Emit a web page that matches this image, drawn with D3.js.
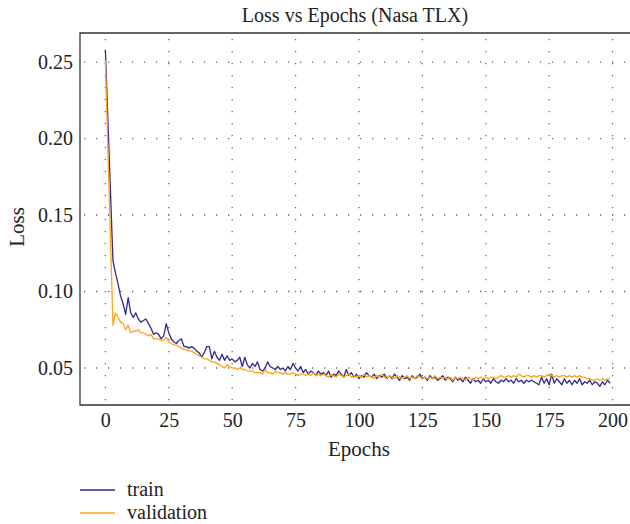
<!DOCTYPE html>
<html><head><meta charset="utf-8">
<script src="https://cdn.jsdelivr.net/npm/d3@7"></script>
<style>body{margin:0;background:#fff}svg{display:block}text{font-family:"Liberation Serif","DejaVu Serif",serif;fill:#222}</style>
</head><body><svg id="c" width="630" height="524"></svg>
<script>
const title = "Loss vs Epochs (Nasa TLX)";
const xTicks = [0,25,50,75,100,125,150,175,200];
const yTicks = [0.05,0.10,0.15,0.20,0.25];
const seriesNames = ["train","validation"];
const train = [0.258,0.212,0.166,0.120,0.112,0.105,0.097,0.092,0.085,0.096,
0.086,0.083,0.086,0.082,0.080,0.081,0.082,0.079,0.076,0.072,
0.073,0.072,0.069,0.071,0.079,0.073,0.069,0.067,0.066,0.068,
0.069,0.064,0.064,0.063,0.064,0.063,0.061,0.060,0.057,0.060,
0.064,0.064,0.056,0.061,0.057,0.055,0.059,0.055,0.058,0.055,
0.056,0.054,0.055,0.057,0.051,0.057,0.052,0.050,0.053,0.051,
0.054,0.049,0.048,0.050,0.054,0.051,0.050,0.049,0.051,0.049,
0.050,0.048,0.051,0.049,0.053,0.050,0.048,0.051,0.047,0.049,
0.046,0.048,0.047,0.045,0.048,0.046,0.047,0.045,0.048,0.044,
0.046,0.045,0.048,0.046,0.044,0.049,0.045,0.047,0.044,0.046,
0.043,0.045,0.044,0.047,0.045,0.044,0.046,0.043,0.045,0.044,
0.046,0.043,0.045,0.043,0.046,0.044,0.042,0.045,0.043,0.044,
0.042,0.045,0.043,0.044,0.046,0.043,0.044,0.042,0.045,0.043,
0.044,0.042,0.043,0.045,0.042,0.044,0.043,0.041,0.044,0.042,
0.043,0.041,0.044,0.042,0.040,0.043,0.041,0.042,0.040,0.043,
0.041,0.042,0.040,0.043,0.041,0.040,0.042,0.041,0.043,0.041,
0.042,0.040,0.043,0.041,0.042,0.040,0.042,0.041,0.042,0.041,
0.040,0.039,0.044,0.040,0.043,0.039,0.046,0.040,0.043,0.041,
0.039,0.043,0.040,0.042,0.039,0.042,0.040,0.043,0.039,0.041,
0.040,0.042,0.039,0.041,0.040,0.038,0.041,0.039,0.042,0.040];
const validation = [0.251,0.193,0.135,0.078,0.086,0.083,0.080,0.079,0.075,0.078,
0.073,0.074,0.074,0.075,0.073,0.073,0.072,0.071,0.072,0.069,
0.069,0.069,0.068,0.068,0.070,0.067,0.066,0.065,0.065,0.064,
0.063,0.062,0.062,0.061,0.061,0.060,0.059,0.058,0.057,0.056,
0.056,0.055,0.054,0.054,0.053,0.052,0.051,0.050,0.052,0.051,
0.050,0.050,0.049,0.050,0.049,0.049,0.048,0.048,0.048,0.047,
0.047,0.047,0.046,0.049,0.047,0.047,0.046,0.048,0.047,0.047,
0.046,0.047,0.046,0.046,0.047,0.046,0.045,0.046,0.046,0.045,
0.046,0.045,0.047,0.045,0.046,0.045,0.046,0.045,0.044,0.046,
0.045,0.044,0.046,0.045,0.044,0.045,0.046,0.044,0.045,0.044,
0.045,0.044,0.046,0.044,0.045,0.044,0.043,0.045,0.044,0.046,
0.044,0.043,0.045,0.044,0.043,0.045,0.044,0.043,0.044,0.045,
0.043,0.044,0.043,0.045,0.044,0.043,0.044,0.043,0.044,0.043,
0.045,0.043,0.044,0.043,0.044,0.043,0.044,0.042,0.044,0.043,
0.044,0.043,0.042,0.044,0.043,0.042,0.044,0.043,0.044,0.043,
0.044,0.043,0.044,0.044,0.043,0.044,0.045,0.044,0.044,0.045,
0.044,0.045,0.044,0.046,0.045,0.044,0.045,0.045,0.044,0.045,
0.044,0.045,0.045,0.044,0.045,0.046,0.045,0.044,0.045,0.044,
0.045,0.045,0.044,0.045,0.044,0.045,0.044,0.045,0.044,0.044,
0.043,0.043,0.042,0.042,0.043,0.042,0.043,0.042,0.043,0.043];
const colors = ["#2f2a8e","#ffa31a"];

const svg = d3.select("#c");
const L=80, R=643, T=33, B=405;
const x = d3.scaleLinear().domain([-10,212]).range([L,R]);
const y = d3.scaleLinear().domain([0.0258,0.269]).range([B,T]);

// grid
const g = svg.append("g");
g.selectAll(".vx").data(xTicks).join("line")
  .attr("x1",d=>x(d)).attr("x2",d=>x(d)).attr("y1",T+6).attr("y2",B)
  .attr("stroke","#666").attr("stroke-width",1.3).attr("stroke-dasharray","1.3,10.7");
g.selectAll(".hy").data(yTicks).join("line")
  .attr("x1",L+4).attr("x2",R).attr("y1",d=>y(d)).attr("y2",d=>y(d))
  .attr("stroke","#666").attr("stroke-width",1.3).attr("stroke-dasharray","1.3,10.7");

// frame
svg.append("path").attr("d",`M${R},${T}H${L}V${B}H${R}`).attr("fill","none").attr("stroke","#333").attr("stroke-width",1.3);

// axes
const xa = d3.axisBottom(x).tickValues(xTicks).tickSize(0).tickPadding(8).tickFormat(d3.format("d"));
const xg = svg.append("g").attr("transform",`translate(0,${B})`).call(xa);
xg.select(".domain").remove();
xg.selectAll("text").attr("font-size",20).attr("dy","0.71em");
const ya = d3.axisLeft(y).tickValues(yTicks).tickSize(0).tickPadding(7).tickFormat(d3.format(".2f"));
const yg = svg.append("g").attr("transform",`translate(${L},0)`).call(ya);
yg.select(".domain").remove();
yg.selectAll("text").attr("font-size",20);
svg.selectAll(".tick text").style("fill","#222").style("font-family",'"Liberation Serif",serif');

// lines
svg.append("clipPath").attr("id","cp").append("rect").attr("x",L).attr("y",T).attr("width",R-L).attr("height",B-T);
const line = d3.line().x((d,i)=>x(i)).y(d=>y(d));
[train, validation].forEach((s,k)=>{
  svg.append("path").datum(s).attr("d",line).attr("fill","none")
    .attr("stroke",colors[k]).attr("stroke-width",1.3).attr("stroke-linejoin","round")
    .attr("clip-path","url(#cp)");
});

// title and labels
svg.append("text").attr("x",(L+630)/2).attr("y",22).attr("text-anchor","middle").attr("font-size",20).text(title);
svg.append("text").attr("x",x(100)).attr("y",456).attr("text-anchor","middle").attr("font-size",21).text("Epochs");
svg.append("text").attr("transform",`translate(24,${y(0.15)+12}) rotate(-90)`).attr("text-anchor","middle").attr("font-size",21).text("Loss");

// legend
seriesNames.forEach((n,k)=>{
  const yy = 490 + k*23;
  svg.append("line").attr("x1",80).attr("x2",115).attr("y1",yy).attr("y2",yy).attr("stroke",colors[k]).attr("stroke-width",1.3);
  svg.append("text").attr("x",127).attr("y",yy+6).attr("font-size",20).text(n);
});
</script></body></html>
